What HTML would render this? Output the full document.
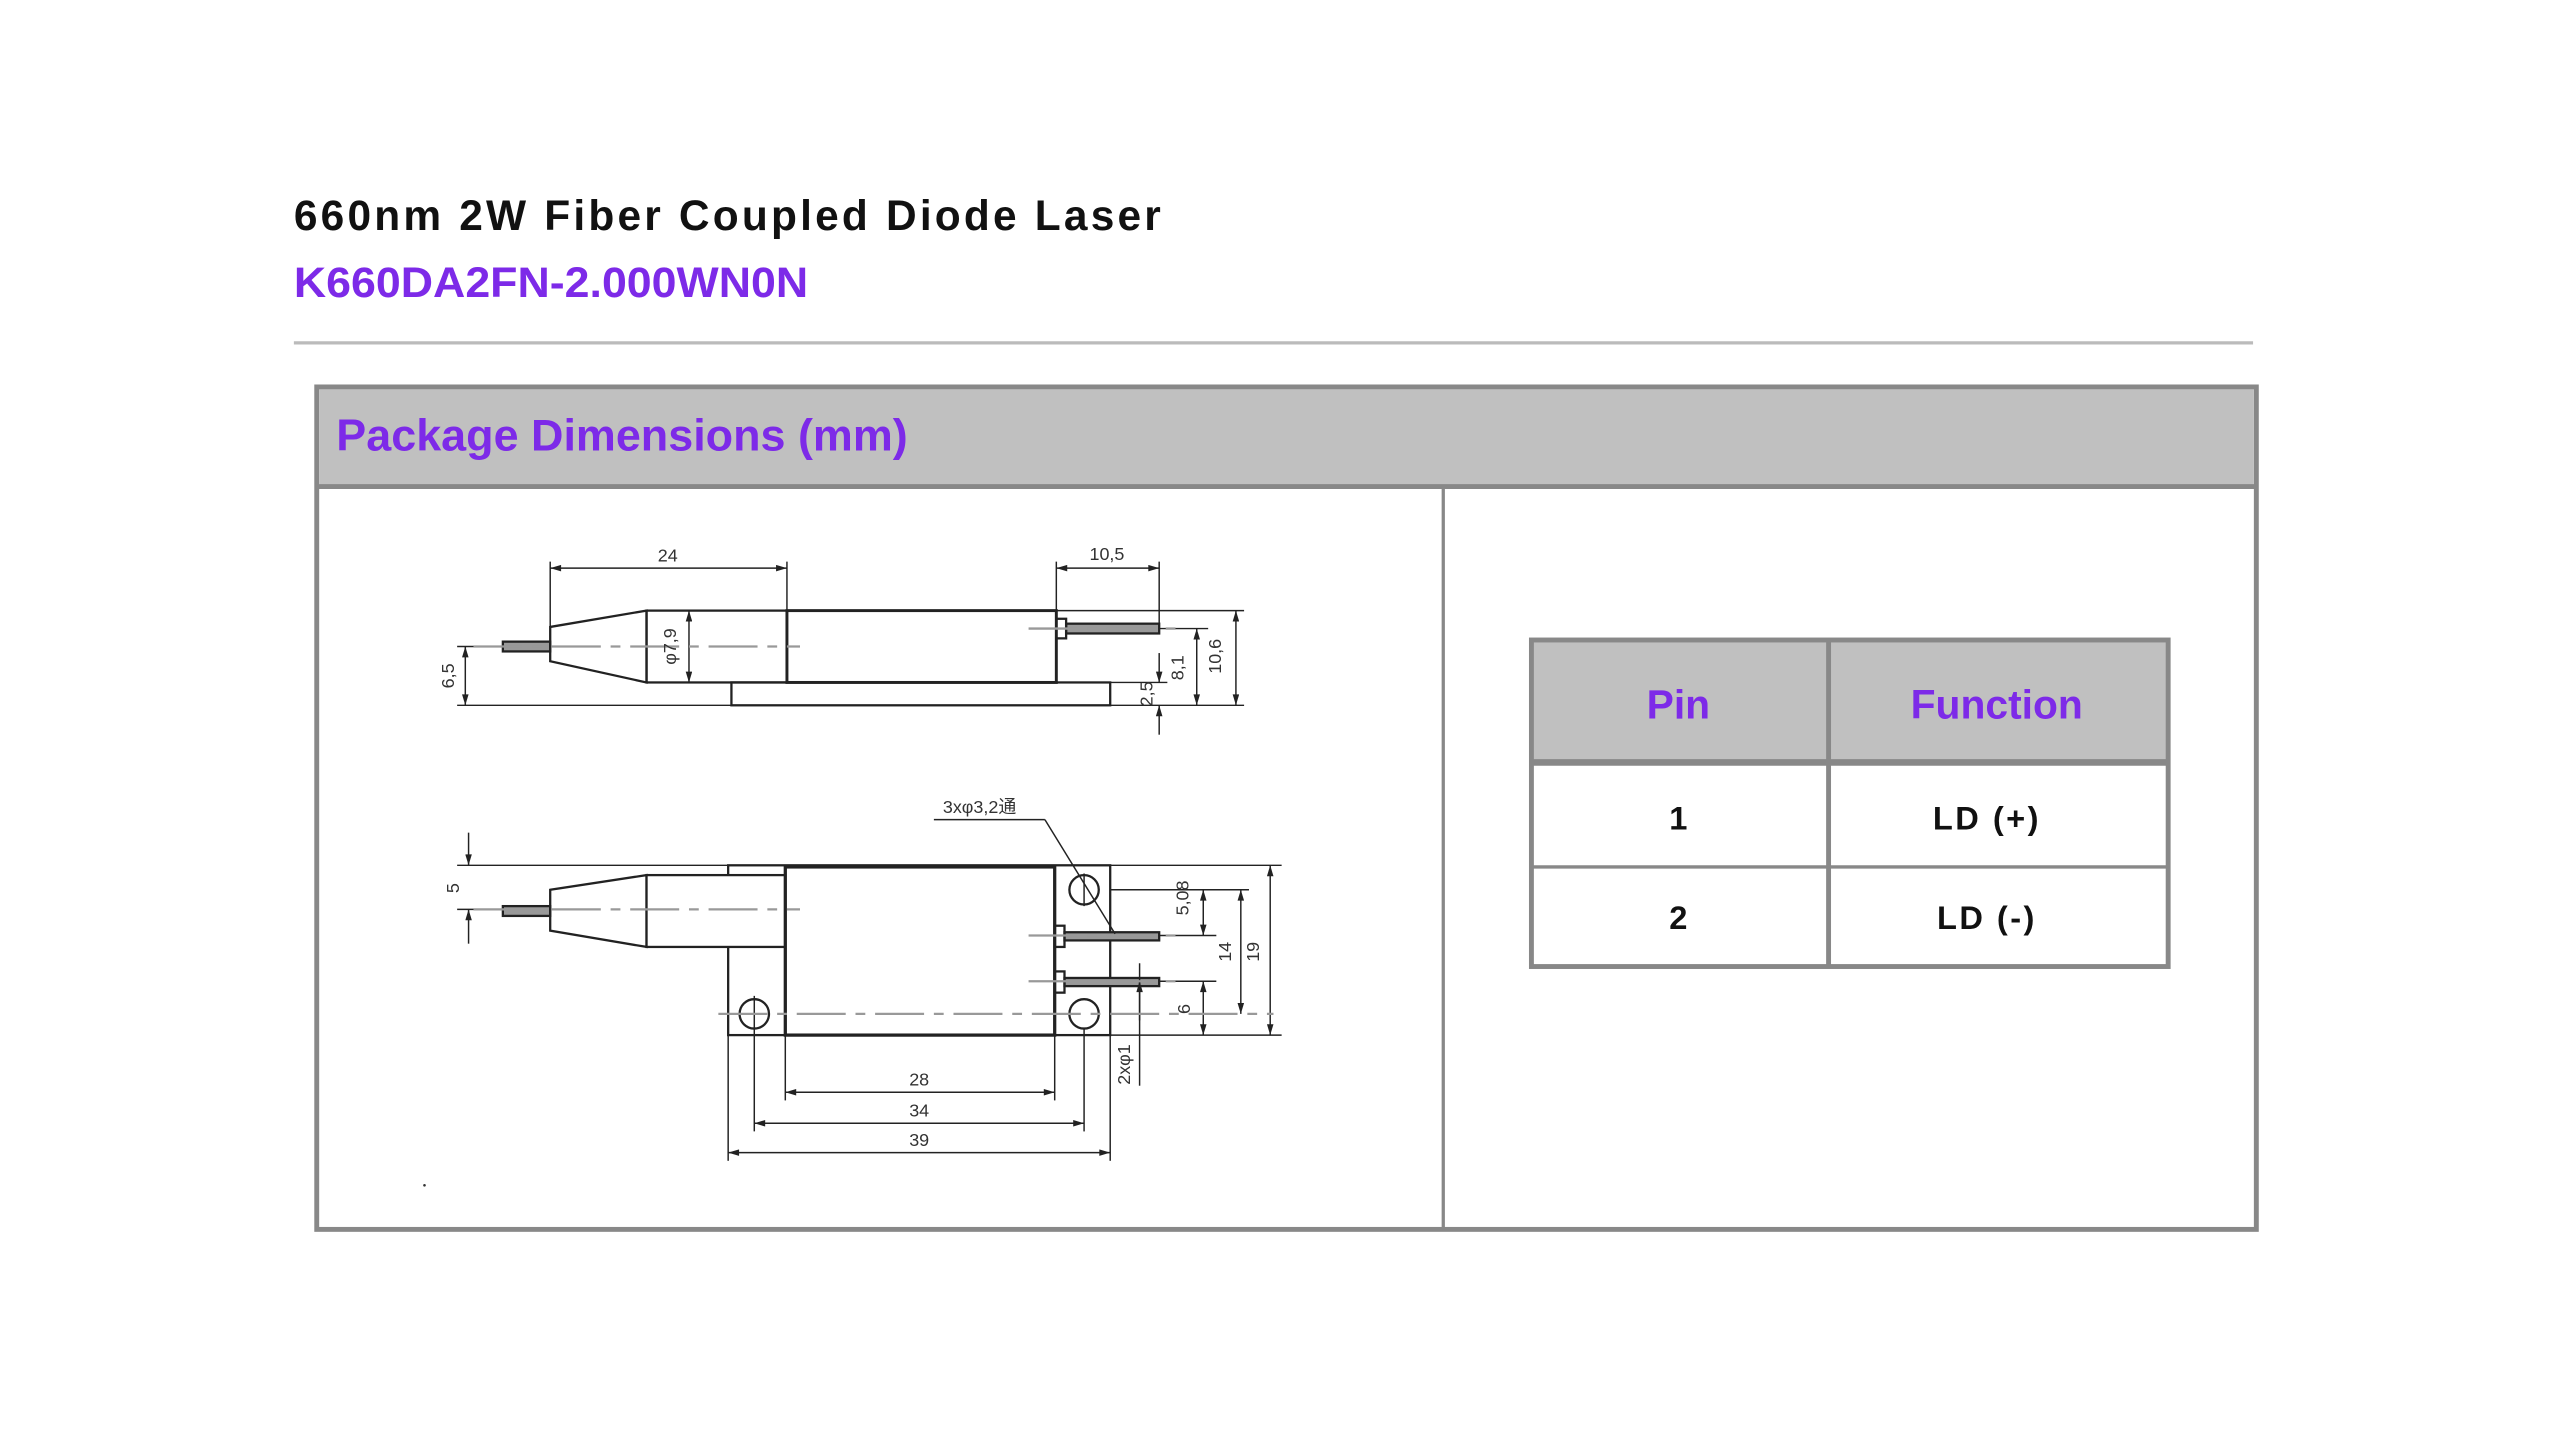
<!DOCTYPE html>
<html><head><meta charset="utf-8"><style>
html,body{margin:0;padding:0;background:#fff;width:2560px;height:1440px;overflow:hidden}
svg{display:block}
</style></head><body>
<svg width="2560" height="1440" viewBox="0 0 1568 882" xmlns="http://www.w3.org/2000/svg">
<defs>
<marker id="a" viewBox="0 0 10 6" refX="10" refY="3" markerWidth="7" markerHeight="4" orient="auto-start-reverse" markerUnits="userSpaceOnUse"><path d="M0,0 L10,3 L0,6 z" fill="#222"/></marker>
</defs>
<rect width="1568" height="882" fill="#fff"/>
<text x="180" y="141" font-family="Liberation Sans, sans-serif" font-weight="bold" font-size="26" textLength="531" lengthAdjust="spacing" fill="#111">660nm 2W Fiber Coupled Diode Laser</text>
<text x="180" y="182" font-family="Liberation Sans, sans-serif" font-weight="bold" font-size="26" textLength="315" lengthAdjust="spacingAndGlyphs" fill="#7d2ae8">K660DA2FN-2.000WN0N</text>
<line x1="180" y1="210" x2="1380" y2="210" stroke="#bbb" stroke-width="2"/>
<rect x="194" y="237" width="1188" height="516" fill="#fff" stroke="#888" stroke-width="3"/>
<rect x="195.5" y="238.5" width="1185" height="59" fill="#c0c0c0"/>
<line x1="194" y1="298" x2="1382" y2="298" stroke="#888" stroke-width="3"/>
<text x="206" y="276" font-family="Liberation Sans, sans-serif" font-weight="bold" font-size="27" textLength="350" lengthAdjust="spacingAndGlyphs" fill="#7d2ae8">Package Dimensions (mm)</text>
<line x1="884" y1="298" x2="884" y2="753" stroke="#888" stroke-width="2"/>
<rect x="938" y="392" width="390" height="74" fill="#c0c0c0"/>
<rect x="938" y="392" width="390" height="200" fill="none" stroke="#888" stroke-width="3"/>
<line x1="1120" y1="392" x2="1120" y2="592" stroke="#888" stroke-width="3"/>
<line x1="938" y1="467" x2="1328" y2="467" stroke="#888" stroke-width="4"/>
<line x1="938" y1="531" x2="1328" y2="531" stroke="#888" stroke-width="2"/>
<g font-family="Liberation Sans, sans-serif" font-weight="bold" text-anchor="middle">
<text x="1028" y="440" font-size="25" fill="#7d2ae8">Pin</text>
<text x="1223" y="440" font-size="25" fill="#7d2ae8">Function</text>
<text x="1028" y="508" font-size="20" fill="#111">1</text>
<text x="1217" y="508" font-size="20" fill="#111" letter-spacing="1.5">LD (+)</text>
<text x="1028" y="569" font-size="20" fill="#111">2</text>
<text x="1217" y="569" font-size="20" fill="#111" letter-spacing="1.5">LD (-)</text>
</g>
<g fill="none" stroke="#222" stroke-width="1.4">
<rect x="308" y="393" width="29" height="6" fill="#999"/>
<path d="M337,384 L396,374 L396,418 L337,405 Z"/>
<rect x="396" y="374" width="86" height="44"/>
<rect x="482" y="374" width="165" height="44" stroke-width="1.8"/>
<rect x="448" y="418" width="232" height="14"/>
<rect x="653" y="382" width="57" height="6" fill="#999"/>
<rect x="647" y="379" width="6" height="12"/>
<g stroke-width="0.9">
<line x1="337" y1="344" x2="337" y2="384"/><line x1="482" y1="344" x2="482" y2="374"/>
<line x1="647" y1="344" x2="647" y2="374"/><line x1="710" y1="344" x2="710" y2="382"/>
<line x1="647" y1="374" x2="762" y2="374"/><line x1="280" y1="432" x2="762" y2="432"/>
<line x1="710" y1="385" x2="740" y2="385"/><line x1="280" y1="396" x2="308" y2="396"/>
<line x1="680" y1="418" x2="715" y2="418"/>
<line x1="337" y1="348" x2="482" y2="348" marker-start="url(#a)" marker-end="url(#a)"/>
<line x1="647" y1="348" x2="710" y2="348" marker-start="url(#a)" marker-end="url(#a)"/>
<line x1="757" y1="374" x2="757" y2="432" marker-start="url(#a)" marker-end="url(#a)"/>
<line x1="733" y1="385" x2="733" y2="432" marker-start="url(#a)" marker-end="url(#a)"/>
<line x1="285" y1="396" x2="285" y2="432" marker-start="url(#a)" marker-end="url(#a)"/>
<line x1="422" y1="374" x2="422" y2="418" marker-start="url(#a)" marker-end="url(#a)"/>
<line x1="710" y1="400" x2="710" y2="418" marker-end="url(#a)"/>
<line x1="710" y1="450" x2="710" y2="432" marker-end="url(#a)"/>
</g>
<line x1="290" y1="396" x2="490" y2="396" stroke="#999" stroke-dasharray="30,6,6,6"/>
<line x1="630" y1="385" x2="725" y2="385" stroke="#999" stroke-dasharray="30,6,6,6"/>
</g>
<g fill="none" stroke="#222" stroke-width="1.4">
<rect x="446" y="530" width="234" height="104"/>
<rect x="308" y="555" width="29" height="6" fill="#999"/>
<path d="M337,545 L396,536 L396,580 L337,570 Z"/>
<rect x="396" y="536" width="86" height="44" fill="#fff"/>
<rect x="481" y="531" width="165" height="103" stroke-width="2" fill="#fff"/>
<circle cx="462" cy="621" r="9"/><circle cx="664" cy="545" r="9"/><circle cx="664" cy="621" r="9"/>
<rect x="652" y="571" width="58" height="5" fill="#999"/><rect x="646" y="567" width="6" height="13"/>
<rect x="652" y="599" width="58" height="5" fill="#999"/><rect x="646" y="595" width="6" height="13"/>
<g stroke-width="0.9">
<line x1="280" y1="530" x2="785" y2="530"/><line x1="680" y1="634" x2="785" y2="634"/>
<line x1="680" y1="545" x2="765" y2="545"/><line x1="710" y1="573" x2="745" y2="573"/>
<line x1="710" y1="601" x2="745" y2="601"/><line x1="280" y1="557" x2="308" y2="557"/>
<line x1="287" y1="510" x2="287" y2="530" marker-end="url(#a)"/>
<line x1="287" y1="578" x2="287" y2="557" marker-end="url(#a)"/>
<line x1="778" y1="530" x2="778" y2="634" marker-start="url(#a)" marker-end="url(#a)"/>
<line x1="760" y1="545" x2="760" y2="621" marker-start="url(#a)" marker-end="url(#a)"/>
<line x1="737" y1="545" x2="737" y2="573" marker-start="url(#a)" marker-end="url(#a)"/>
<line x1="737" y1="601" x2="737" y2="634" marker-start="url(#a)" marker-end="url(#a)"/>
<line x1="698" y1="665" x2="698" y2="590"/>
<line x1="698" y1="625" x2="698" y2="601" marker-end="url(#a)"/>
<line x1="481" y1="634" x2="481" y2="674"/><line x1="646" y1="634" x2="646" y2="674"/>
<line x1="462" y1="610" x2="462" y2="693"/><line x1="664" y1="630" x2="664" y2="693"/>
<line x1="446" y1="634" x2="446" y2="711"/><line x1="680" y1="634" x2="680" y2="711"/>
<line x1="664" y1="535" x2="664" y2="555"/>
<line x1="481" y1="669" x2="646" y2="669" marker-start="url(#a)" marker-end="url(#a)"/>
<line x1="462" y1="688" x2="664" y2="688" marker-start="url(#a)" marker-end="url(#a)"/>
<line x1="446" y1="706" x2="680" y2="706" marker-start="url(#a)" marker-end="url(#a)"/>
<line x1="572" y1="502" x2="640" y2="502"/>
<path d="M640,502 L683,572"/>
</g>
<line x1="290" y1="557" x2="490" y2="557" stroke="#999" stroke-dasharray="30,6,6,6"/>
<line x1="440" y1="621" x2="780" y2="621" stroke="#999" stroke-dasharray="30,6,6,6"/>
<line x1="630" y1="573" x2="725" y2="573" stroke="#999" stroke-dasharray="30,6,6,6"/>
<line x1="630" y1="601" x2="725" y2="601" stroke="#999" stroke-dasharray="30,6,6,6"/>
</g>
<g font-family="Liberation Sans, sans-serif" font-size="11" fill="#333" text-anchor="middle">
<text x="409" y="344">24</text>
<text x="678" y="343">10,5</text>
<text x="563" y="665">28</text>
<text x="563" y="684">34</text>
<text x="563" y="702">39</text>
<text x="600" y="498" font-family="Liberation Sans, Noto Sans CJK SC, sans-serif">3xφ3,2通</text>
<text transform="translate(278,414) rotate(-90)">6,5</text>
<text transform="translate(414,396) rotate(-90)">φ7,9</text>
<text transform="translate(725,409) rotate(-90)">8,1</text>
<text transform="translate(748,402) rotate(-90)">10,6</text>
<text transform="translate(706,425) rotate(-90)">2,5</text>
<text transform="translate(281,544) rotate(-90)">5</text>
<text transform="translate(728,550) rotate(-90)">5,08</text>
<text transform="translate(754,583) rotate(-90)">14</text>
<text transform="translate(771,583) rotate(-90)">19</text>
<text transform="translate(729,618) rotate(-90)">6</text>
<text transform="translate(692,652) rotate(-90)">2xφ1</text>
</g>
<circle cx="260" cy="726" r="0.8" fill="#333"/>
</svg>
</body></html>
